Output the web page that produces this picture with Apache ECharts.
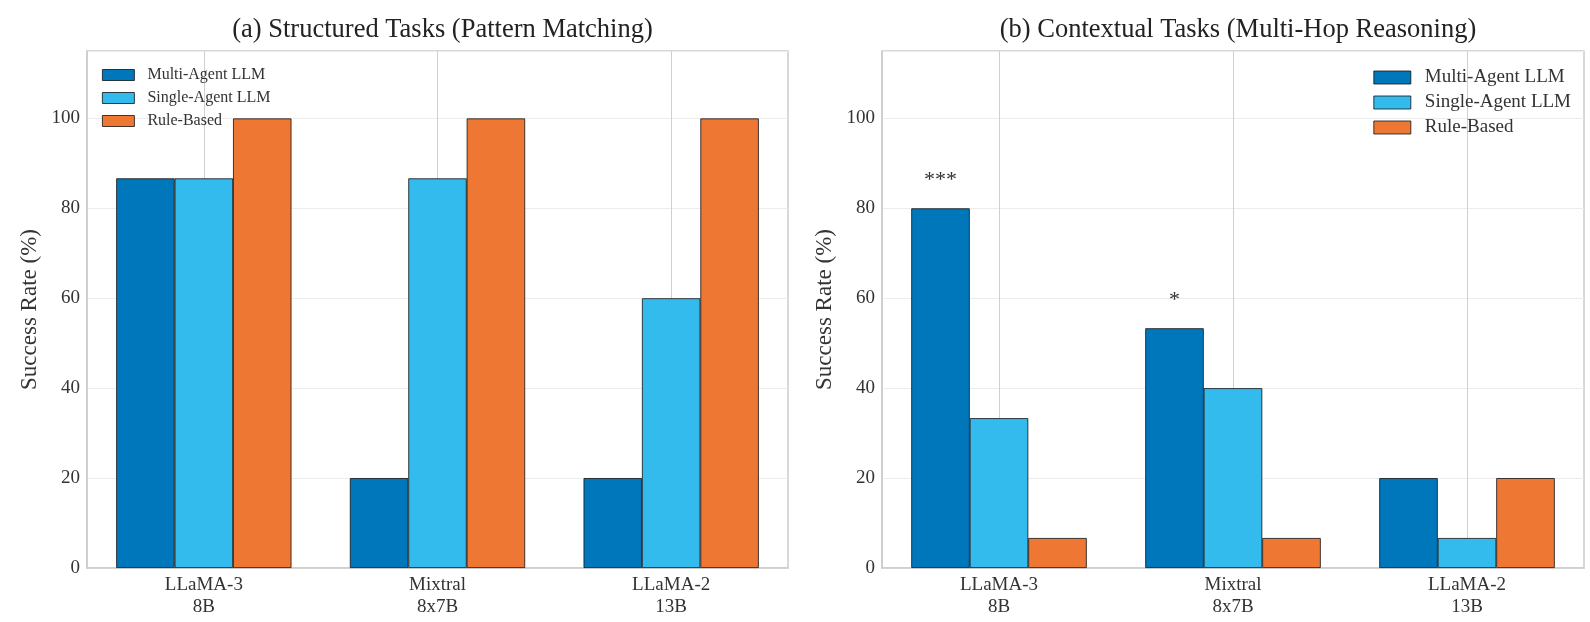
<!DOCTYPE html>
<html>
<head>
<meta charset="utf-8">
<script src="https://cdn.jsdelivr.net/npm/echarts@6/dist/echarts.min.js"></script>
<style>
html,body{margin:0;padding:0;background:#fff;}
#c{width:1590px;height:622px;}
</style>
</head>
<body>
<div id="c"></div>
<script>
const categories = ['LLaMA-3\n8B', 'Mixtral\n8x7B', 'LLaMA-2\n13B'];
const seriesNames = ['Multi-Agent LLM', 'Single-Agent LLM', 'Rule-Based'];
const colors = ['#0077BB', '#33BBEE', '#EE7733'];

// (a) Structured Tasks
const structMulti = [86.67, 20, 20];
const structSingle = [86.67, 86.67, 60];
const structRule = [100, 100, 100];

// (b) Contextual Tasks
const ctxMulti = [80, 53.33, 20];
const ctxSingle = [33.33, 40, 6.67];
const ctxRule = [6.67, 6.67, 20];
const ctxSignif = ['***', '*', ''];

const titles = ['(a) Structured Tasks (Pattern Matching)', '(b) Contextual Tasks (Multi-Hop Reasoning)'];
const yTicks = { min: 0, max: 115, interval: 20 };

const FONT = 'Liberation Serif';
const chart = echarts.init(document.getElementById('c'));

const grids = [
  { left: 87, right: 1590 - 788, top: 51, bottom: 622 - 568, show: true, borderColor: '#cccccc', borderWidth: 1.5, backgroundColor: 'transparent' },
  { left: 882, right: 1590 - 1584, top: 51, bottom: 622 - 568, show: true, borderColor: '#cccccc', borderWidth: 1.5, backgroundColor: 'transparent' }
];

function xAxis(gi) {
  return {
    type: 'category', gridIndex: gi, data: categories,
    axisLine: { show: true, lineStyle: { color: '#cccccc', width: 1.5 } },
    axisTick: { show: false },
    axisLabel: { fontFamily: FONT, fontSize: 19, color: '#333', lineHeight: 22, margin: 6 },
    splitLine: { show: false }
  };
}
function yAxis(gi) {
  return {
    type: 'value', gridIndex: gi, min: yTicks.min, max: yTicks.max, interval: yTicks.interval,
    name: 'Success Rate (%)', nameLocation: 'middle', nameGap: 46,
    nameTextStyle: { fontFamily: FONT, fontSize: 23, color: '#333' },
    axisLine: { show: true, lineStyle: { color: '#cccccc', width: 1.5 } },
    axisTick: { show: false },
    axisLabel: { fontFamily: FONT, fontSize: 19, color: '#333', margin: 7, showMaxLabel: false },
    splitLine: { show: true, lineStyle: { color: '#ececec', width: 1 } }
  };
}

function barSeries(gi, idx, data) {
  return {
    name: seriesNames[idx], type: 'bar', xAxisIndex: gi, yAxisIndex: gi,
    data: data, barGap: '0%', barCategoryGap: '25%', z: 3,
    itemStyle: { color: colors[idx], borderColor: '#111', borderWidth: 0.8 },
    emphasis: { disabled: true }
  };
}

function vLines(gi) {
  return {
    type: 'line', xAxisIndex: gi, yAxisIndex: gi, data: [null, null, null],
    showSymbol: false, silent: true, z: 1,
    markLine: {
      silent: true, symbol: 'none', z: 1, animation: false,
      label: { show: false },
      lineStyle: { color: '#d0d0d0', width: 1, type: 'solid' },
      data: categories.map(c => ({ xAxis: c }))
    }
  };
}

const ctxMultiData = ctxMulti.map((v, i) => ({
  value: v,
  label: {
    show: ctxSignif[i] !== '', position: 'top', distance: 17, formatter: ctxSignif[i],
    fontFamily: FONT, fontSize: 22, color: '#333'
  }
}));

const option = {
  animation: false,
  backgroundColor: '#fff',
  title: [
    { text: titles[0], left: 437.5, top: 12, textAlign: 'center',
      textStyle: { fontFamily: FONT, fontSize: 26.5, fontWeight: 'normal', color: '#222' } },
    { text: titles[1], left: 1233, top: 12, textAlign: 'center',
      textStyle: { fontFamily: FONT, fontSize: 26.5, fontWeight: 'normal', color: '#222' } }
  ],
  legend: [
    { data: seriesNames, orient: 'vertical', left: 97, top: 62, icon: 'rect',
      itemWidth: 32, itemHeight: 11, itemGap: 7,
      itemStyle: { borderWidth: 0.8, borderColor: '#111' },
      textStyle: { fontFamily: FONT, fontSize: 16, color: '#333', padding: [0, 0, 0, 8] } },
    { data: seriesNames, orient: 'vertical', right: 14, top: 63, icon: 'rect',
      itemWidth: 37, itemHeight: 13, itemGap: 6,
      itemStyle: { borderWidth: 0.8, borderColor: '#111' },
      textStyle: { fontFamily: FONT, fontSize: 19, color: '#333', padding: [0, 0, 0, 9] } }
  ],
  grid: grids,
  xAxis: [xAxis(0), xAxis(1)],
  yAxis: [yAxis(0), yAxis(1)],
  series: [
    vLines(0), vLines(1),
    barSeries(0, 0, structMulti), barSeries(0, 1, structSingle), barSeries(0, 2, structRule),
    barSeries(1, 0, ctxMultiData), barSeries(1, 1, ctxSingle), barSeries(1, 2, ctxRule)
  ]
};
chart.setOption(option);
</script>
</body>
</html>
